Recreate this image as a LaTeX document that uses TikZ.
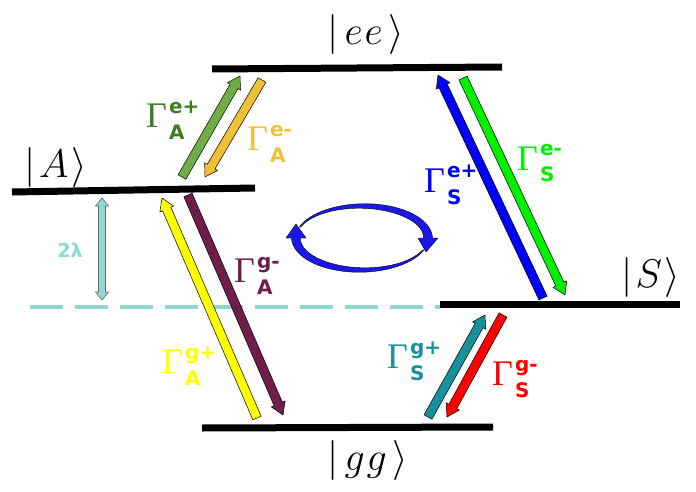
\RequirePackage{fix-cm}
\documentclass[tikz,border=0pt]{standalone}
\usepackage{fontspec}
\newfontfamily\lsans{DejaVu Sans}
\newfontfamily\lserif{Liberation Serif}
\usetikzlibrary{calc}
\definecolor{cAeP}{HTML}{70AD47}
\definecolor{cAePt}{HTML}{3E7E1E}
\definecolor{cAeM}{HTML}{F2C037}
\definecolor{cAgP}{HTML}{FFFF00}
\definecolor{cAgM}{HTML}{6F1D4C}
\definecolor{cSeP}{HTML}{0000FF}
\definecolor{cSeM}{HTML}{00F000}
\definecolor{cSgP}{HTML}{17929C}
\definecolor{cSgM}{HTML}{FF0000}
\definecolor{cLam}{HTML}{8FD8D2}
\definecolor{cCyc}{HTML}{1818E8}
\newcommand\rsub{\fontsize{20}{20}\selectfont\lsans\bfseries}
\newcommand\gam[2]{{\lserif\fontsize{36}{36}\selectfont Γ}\kern2pt\rlap{\raisebox{14pt}{\rsub #1}}\raisebox{-12pt}{\rsub #2}}
\newcommand\barrow[3]{%
  \draw[fill=#1, draw=black, line width=0.5pt, line join=miter]
    let \p1=(#2), \p2=(#3), \n1={atan2(\y2-\y1,\x2-\x1)}, \n2={veclen(\x2-\x1,\y2-\y1)} in
    [shift={(\p1)}, rotate=\n1]
    (0,-4.5) -- ({\n2-12},-4.5) -- ({\n2-12},-7.5) -- (\n2,0) -- ({\n2-12},7.5) -- ({\n2-12},4.5) -- (0,4.5) -- cycle;}
\begin{document}
\begin{tikzpicture}[x=1pt,y=1pt,
  level/.style={line width=7pt, black},
  ketlbl/.style={font=\fontsize{40}{40}\selectfont, inner sep=0pt, anchor=base},
  ratelbl/.style={inner sep=0pt, anchor=base west}]
\useasboundingbox (0,0) rectangle (696,491);
% energy levels
\coordinate (ee1) at (212,422); \coordinate (ee2) at (502,424);
\coordinate (A1) at (12,299);   \coordinate (A2) at (255,303);
\coordinate (S1) at (440,187);  \coordinate (S2) at (680,187);
\coordinate (gg1) at (202,63);  \coordinate (gg2) at (493,64);
\coordinate (d1) at (30,184);   \coordinate (d2) at (440,184);
\draw[cLam, line width=4pt, dash pattern=on 33pt off 12pt] (d1) -- (d2);
\draw[level] (ee1) -- (ee2);
\draw[level] (A1) -- (A2);
\draw[level] (S1) -- (S2);
\draw[level] (gg1) -- (gg2);
% kets
\node[ketlbl] (kee) at (366,446) {$|\kern6pt e\kern2pt e\kern6pt\rangle$};
\node[ketlbl] (kA) at (56,314) {$|\kern3pt A\kern3pt\rangle$};
\node[ketlbl] (kS) at (651,204) {$|\kern3pt S\kern3pt\rangle$};
\node[ketlbl] (kgg) at (368,21) {$|\kern6pt g\kern2pt g\kern6pt\rangle$};
% arrow end points
\coordinate (aePt) at (182,314); \coordinate (aePh) at (240,415);
\coordinate (aeMt) at (262,411); \coordinate (aeMh) at (205,314);
\coordinate (agPt) at (257,73);  \coordinate (agPh) at (162,293);
\coordinate (agMt) at (188,296); \coordinate (agMh) at (283,76);
\coordinate (sePt) at (543,193); \coordinate (sePh) at (438,416);
\coordinate (seMt) at (463,413); \coordinate (seMh) at (565,196);
\coordinate (sgPt) at (428,74);  \coordinate (sgPh) at (485,176);
\coordinate (sgMt) at (503,176); \coordinate (sgMh) at (447,74);
\barrow{cAeP}{aePt}{aePh}
\barrow{cAeM}{aeMt}{aeMh}
\barrow{cAgP}{agPt}{agPh}
\barrow{cAgM}{agMt}{agMh}
\barrow{cSeP}{sePt}{sePh}
\barrow{cSeM}{seMt}{seMh}
\barrow{cSgP}{sgPt}{sgPh}
\barrow{cSgM}{sgMt}{sgMh}
% rate labels
\node[ratelbl, text=cAePt] (lAeP) at (146,363) {\gam{e+}{A}};
\node[ratelbl, text=cAeM] (lAeM) at (247,341) {\gam{e-}{A}};
\node[ratelbl, text=cAgM] (lAgM) at (234,209) {\gam{g-}{A}};
\node[ratelbl, text=cAgP] (lAgP) at (162,118) {\gam{g+}{A}};
\node[ratelbl, text=cSeP] (lSeP) at (424,299) {\gam{e+}{S}};
\node[ratelbl, text=cSeM] (lSeM) at (517,321) {\gam{e-}{S}};
\node[ratelbl, text=cSgP] (lSgP) at (387,123) {\gam{g+}{S}};
\node[ratelbl, text=cSgM] (lSgM) at (492,106) {\gam{g-}{S}};
% 2 lambda
\coordinate (lamB) at (102,191); \coordinate (lamT) at (102,293);
\draw[fill=cLam, draw=black!60, line width=0.6pt, line join=miter]
  (lamB) -- ++(-6.5,8) -- ++(3,0) -- ++(0,86) -- ++(-3,0) -- (lamT)
  -- ++(6.5,-8) -- ++(-3,0) -- ++(0,-86) -- ++(3,0) -- cycle;
\node[text=cLam, font=\fontsize{19}{19}\selectfont\lsans\bfseries, inner sep=0pt] (lam) at (70,241) {2λ};
% cycle arrows
\filldraw[fill=cCyc, draw=black, line width=0.4pt]
  plot[domain=-22:-180, samples=40, variable=\t]
    ({362+(66+(1+8*(-22-\t)/158)/2)*cos(\t)}, {253+(32+(1+8*(-22-\t)/158)/2)*sin(\t)})
  -- (286,253) -- (296,267) -- (306,253)
  -- plot[domain=-180:-22, samples=40, variable=\t]
    ({362+(66-(1+8*(-22-\t)/158)/2)*cos(\t)}, {253+(32-(1+8*(-22-\t)/158)/2)*sin(\t)})
  -- cycle;
\filldraw[fill=cCyc, draw=black, line width=0.4pt]
  plot[domain=160:0, samples=40, variable=\t]
    ({362+(66+(1+8*(160-\t)/160)/2)*cos(\t)}, {253+(32+(1+8*(160-\t)/160)/2)*sin(\t)})
  -- (438,253) -- (426,239) -- (418,253)
  -- plot[domain=0:160, samples=40, variable=\t]
    ({362+(66-(1+8*(160-\t)/160)/2)*cos(\t)}, {253+(32-(1+8*(160-\t)/160)/2)*sin(\t)})
  -- cycle;
\end{tikzpicture}
\end{document}
